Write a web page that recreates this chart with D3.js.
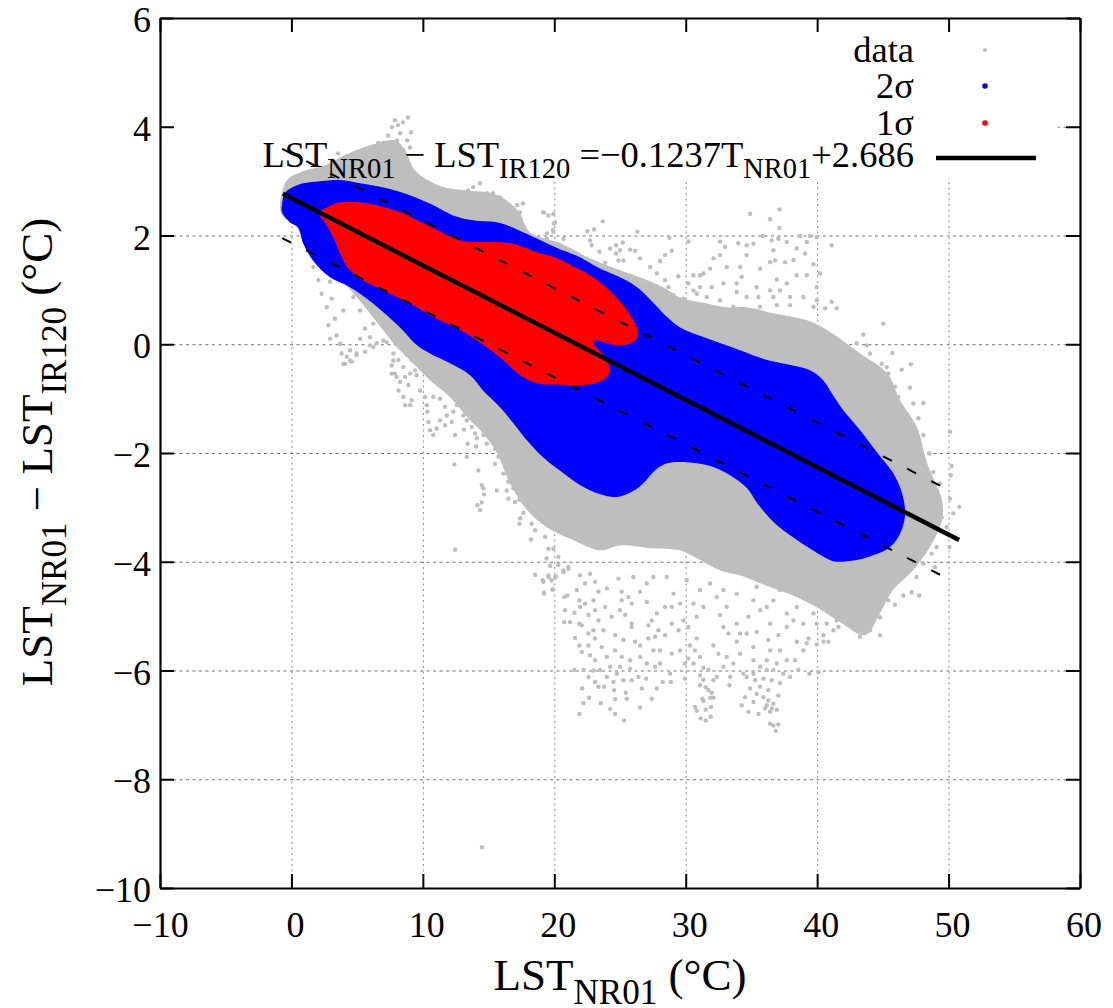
<!DOCTYPE html>
<html>
<head>
<meta charset="utf-8">
<script src="https://cdn.jsdelivr.net/npm/d3@7"></script>
<style>
body { margin: 0; background: #fff; }
text { font-family: "Liberation Serif", serif; fill: #000; }
</style>
</head>
<body>
<div id="chart"></div>
<script>
var xTicks = [-10, 0, 10, 20, 30, 40, 50, 60];
var yTicks = [-10, -8, -6, -4, -2, 0, 2, 4, 6];
var xGrid = [0, 10, 20, 30, 40, 50];
var yGrid = [-8, -6, -4, -2, 0, 2, 4];

// fit from the legend, and the dashed +/- band
var fitSlope = -0.1237;
var fitIntercept = 2.686;
var fitRange = [-0.65, 50.8];
var bandOffset = 0.82;
var bandUpperRange = [-0.7, 49.6];
var bandLowerRange = [-0.7, 49.9];

// 1 sigma outline
var redEdge = [[2.10,2.41],[2.71,2.52],[3.70,2.61],[5.22,2.61],[6.74,2.54],[8.26,2.43],[9.56,2.28],[11.08,2.10],[12.83,1.91],[14.88,1.88],[16.63,1.86],[18.69,1.69],[20.21,1.58],[21.43,1.43],[22.72,1.27],[24.01,1.03],[25.23,0.72],[25.99,0.44],[26.37,0.20],[25.99,0.04],[25.0,-0.02],[24.01,0.02],[23.10,0.07],[22.95,0.02],[23.63,-0.17],[24.17,-0.42],[24.09,-0.57],[23.33,-0.70],[22.19,-0.75],[20.44,-0.74],[18.69,-0.72],[17.39,-0.57],[16.10,-0.29],[14.88,-0.06],[12.83,0.26],[10.77,0.50],[9.02,0.75],[6.97,0.99],[5.22,1.21],[4.23,1.42],[3.70,1.67],[3.17,1.97],[2.56,2.23]];

// 2 sigma outline
var blueEdge = [[-0.72,2.56],[-0.49,2.78],[0.12,2.89],[0.88,2.96],[2.18,3.00],[3.70,3.02],[5.22,2.96],[7.27,2.87],[9.02,2.74],[10.77,2.56],[12.30,2.37],[13.82,2.28],[15.87,2.23],[17.62,2.06],[19.15,1.89],[20.21,1.77],[21.96,1.60],[23.25,1.42],[24.24,1.31],[25.0,1.23],[26.3,1.05],[27.51,0.77],[28.58,0.50],[29.57,0.31],[31.62,0.11],[34.13,-0.11],[36.19,-0.29],[38.16,-0.39],[39.46,-0.48],[40.45,-0.66],[41.21,-0.94],[41.97,-1.21],[43.27,-1.58],[44.56,-1.99],[45.78,-2.37],[46.46,-2.74],[46.69,-3.14],[46.31,-3.48],[45.55,-3.73],[43.79,-3.92],[42.27,-3.99],[41.21,-3.99],[40.0,-3.84],[38.47,-3.60],[36.95,-3.33],[35.43,-2.92],[34.67,-2.65],[33.37,-2.41],[31.85,-2.24],[30.10,-2.17],[28.58,-2.19],[27.66,-2.32],[26.75,-2.56],[25.99,-2.70],[24.77,-2.81],[23.48,-2.76],[21.96,-2.59],[20.67,-2.37],[19.15,-2.08],[17.93,-1.77],[17.01,-1.49],[15.87,-1.16],[14.58,-0.85],[13.59,-0.57],[12.07,-0.35],[10.55,-0.17],[9.56,-0.02],[8.26,0.31],[6.21,0.75],[4.46,1.05],[2.94,1.23],[1.64,1.54],[0.88,1.86],[0.50,2.15],[-0.11,2.24],[-0.72,2.43]];

// where the data points are so thick they merge
var grayEdge = [[-0.87,2.56],[-0.33,3.02],[0.65,3.16],[2.56,3.29],[4.08,3.48],[5.98,3.66],[7.88,3.75],[8.65,3.57],[9.40,3.20],[11.31,2.91],[13.21,2.83],[15.49,2.76],[17.24,2.46],[18.15,2.06],[20.44,1.86],[22.72,1.58],[25.0,1.36],[26.52,1.23],[28.27,1.05],[29.57,0.86],[31.62,0.75],[33.14,0.68],[34.67,0.68],[36.64,0.57],[39.23,0.44],[40.75,0.26],[43.27,-0.17],[45.32,-0.53],[46.31,-1.03],[47.6,-1.53],[48.37,-2.19],[49.5,-2.87],[49.5,-3.24],[48.58,-3.73],[47.29,-4.16],[45.77,-4.52],[44.78,-4.95],[43.64,-5.35],[41.74,-5.11],[39.99,-4.84],[38.16,-4.62],[36.03,-4.43],[34.13,-4.25],[32.61,-4.16],[31.09,-3.97],[29.57,-3.79],[27.29,-3.75],[24.99,-3.70],[23.48,-3.79],[21.43,-3.60],[19.45,-3.37],[17.93,-3.05],[16.63,-2.56],[15.64,-2.00],[14.58,-1.64],[13.36,-1.34],[12.07,-0.97],[10.55,-0.66],[9.25,-0.35],[7.88,-0.02],[6.97,0.26],[4.99,0.86],[3.70,1.18],[2.03,1.42],[0.27,2.19],[-0.71,2.37]];

// the loose points outside the merged area
var grayTop = [[8.87,4.17],[8.49,4.08],[8.11,4.03],[7.88,4.12],[7.65,3.99],[9.1,3.9],[8.27,3.88],[7.35,3.84],[8.8,3.75],[8.03,3.75],[6.97,3.70],[6.6,3.7],[7.1,3.6],[7.65,3.6],[6.74,3.53],[8.5,3.57],[9.02,3.62],[3.55,3.51],[5,3.51],[5.75,3.42],[14.35,2.96],[13.82,2.89],[13.44,2.83],[15.34,2.78],[14.88,2.78],[15.87,2.70],[17.62,2.59],[17.17,2.56],[17.39,2.43],[16.78,2.41],[19.15,2.43],[20.06,2.24],[19.9,2.10],[19.45,2.04],[19.22,2.42],[19.55,2.37],[19.93,2.40],[19.98,2.22],[19.93,2.07],[19.43,1.94],[20.7,1.94],[22.52,2.08],[23.03,2.11],[23.69,2.26],[26.33,2.07],[22.72,1.91],[22.85,1.82],[23.43,1.70],[24.25,1.76],[24.7,1.82],[25.21,1.87],[25.0,1.73],[25.77,1.74],[26.15,1.72],[24.7,1.67],[23.87,1.5],[24.88,1.54],[25.26,1.54],[26.53,1.58],[27.29,1.42],[28.05,1.53],[28.43,1.64],[28.94,1.72],[28.76,1.96],[30.2,1.89],[27.8,1.3],[28.43,1.18],[29.44,1.25],[28.68,1.05],[29.07,0.9],[29.83,0.84],[30.59,1.27],[31.09,1.27],[31.35,1.3],[31.85,1.39],[32.11,1.58],[32.61,1.64],[33.0,1.79],[32.61,1.89],[34.0,1.86],[34.64,1.82],[35.15,1.85],[34.9,2.4],[35.86,1.99],[36.42,2.3],[37.13,2.48],[37.13,2.14],[36.55,1.91],[37.05,1.94],[37.69,1.88],[38.7,1.99],[39.46,1.99],[39.97,1.97],[39.21,1.88],[41.11,1.82],[38.45,1.76],[39.08,1.67],[36.67,1.73],[36.8,1.54],[36.42,1.51],[37.56,1.51],[38.2,1.55],[39.72,1.47],[40.22,1.3],[38.45,1.27],[39.21,1.27],[36.93,1.19],[36.42,0.99],[37.69,1.12],[39.97,1.05],[35.66,1.39],[34.64,1.64],[34.14,1.42],[34.26,1.24],[33.88,1.12],[33.88,0.96],[32.87,1.12],[31.98,1.05],[31.09,1.05],[30.59,0.99],[33.12,1.42],[35.4,1.05],[34.64,0.87],[35.53,0.87],[37.18,0.99],[37.94,0.87],[38.95,0.87],[39.97,0.81],[40.6,0.66],[41.11,0.78],[41.49,0.66],[31.6,0.87],[32.61,0.81],[33.63,0.69],[35.66,0.69],[36.93,0.72],[37.94,0.72],[39.72,0.69],[30.84,0.93],[30.2,1.12],[32.36,0.66],[34.39,0.62],[36.67,0.87]];

var grayRight = [[45.03,0.38],[43.51,0.18],[43.0,0.02],[43.77,-0.02],[44.02,-0.17],[45.72,-0.16],[44.91,-0.36],[45.29,-0.42],[46.43,-0.47],[47.14,-0.37],[45.41,-0.54],[45.92,-0.78],[47.06,-0.8],[46.17,-0.97],[47.32,-1.09],[48.08,-1.08],[46.81,-1.28],[47.7,-1.36],[47.32,-1.52],[48.08,-1.67],[47.7,-1.83],[48.53,-2.01],[50.11,-1.61],[48.08,-2.13],[50.23,-2.24],[48.84,-2.35],[50.16,-2.41],[49.34,-2.56],[49.09,-2.69],[50.11,-2.84],[50.82,-2.99],[50.36,-3.11],[49.47,-3.18],[49.85,-3.36],[50.06,-3.73],[49.09,-3.73],[48.71,-3.85],[48.96,-4.1],[48.08,-4.03],[47.57,-4.28],[46.56,-4.62],[47.77,-4.62],[47.19,-4.56],[45.92,-4.79],[45.41,-4.71],[44.78,-5.02],[44.78,-5.35],[44.02,-5.26],[43.26,-5.38]];

var grayBottom = [[36.85,-7.11],[36.42,-6.98],[37.05,-6.99],[36.67,-7.01],[36.17,-6.64],[36.55,-6.7],[36.93,-6.72],[36.42,-6.76],[36.04,-6.7],[36.67,-6.61],[36.29,-6.55],[37.05,-6.46],[35.91,-6.49],[35.53,-6.8],[34.77,-6.76],[34.26,-6.64],[34.52,-6.49],[35.15,-6.58],[35.4,-6.43],[34.9,-6.33],[35.66,-6.3],[36.29,-6.36],[37.18,-6.23],[36.55,-6.18],[35.91,-6.15],[35.28,-6.18],[34.64,-6.12],[34.39,-6.06],[35.15,-6.06],[36.17,-5.99],[36.67,-5.99],[37.43,-6.06],[37.94,-6.12],[38.57,-5.99],[39.41,-6.06],[40.1,-6.03],[30.71,-6.67],[30.84,-6.74],[31.14,-6.88],[31.52,-6.92],[31.9,-6.85],[31.52,-6.72],[31.93,-6.67],[31.35,-6.56],[31.27,-6.52],[31.87,-6.5],[32.11,-6.5],[31.98,-6.41],[31.73,-6.36],[31.52,-6.31],[31.09,-6.27],[31.35,-6.17],[32.11,-6.18],[32.36,-6.12],[31.09,-6.09],[31.35,-5.95],[31.73,-5.99],[32.87,-5.93],[33.38,-6.12],[33.33,-6.27],[29.95,-6.15],[28.86,-6.21],[28.81,-6.06],[28.25,-6.21],[27.8,-6.33],[27.42,-6.52],[26.99,-6.15],[26.66,-6.33],[26.4,-6.12],[26.53,-6.68],[25.51,-6.52],[25.44,-6.41],[25.31,-6.92],[24.63,-6.8],[24.25,-6.71],[24.63,-6.53],[24.55,-6.36],[23.54,-6.6],[22.65,-6.5],[22.22,-6.6],[21.91,-6.8],[22.12,-6.33],[23.36,-6.3],[23.79,-6.3],[23.1,-6.21],[22.6,-6.12],[22.22,-5.99],[21.53,-5.99],[25.26,-6.18],[25.89,-6.18],[24.5,-6.21],[24.0,-6.12],[24.75,-6.06],[24.25,-5.93],[25.0,-5.93],[25.77,-5.97],[23.49,-5.99],[22.98,-6.0],[23.1,-5.81],[22.72,-5.72],[22.09,-5.66],[21.91,-5.54],[21.58,-5.4],[22.6,-5.54],[23.1,-5.41],[22.6,-5.32],[23.61,-5.57],[24.0,-5.75],[24.63,-5.63],[25.13,-5.75],[25.77,-5.81],[26.53,-5.75],[27.04,-5.87],[27.67,-5.93],[28.05,-5.87],[27.54,-5.63],[28.05,-5.63],[28.94,-5.69],[29.57,-5.63],[30.2,-5.78],[30.59,-5.87],[29.95,-5.87],[30.71,-5.63],[31.09,-5.75],[32.11,-5.54],[32.49,-5.69],[33.12,-5.75],[33.63,-5.87],[34.14,-5.69],[35.15,-5.81],[35.66,-5.93],[36.17,-5.81],[36.93,-5.87],[36.42,-5.63],[37.69,-5.81],[38.32,-5.81],[37.18,-5.63],[38.45,-5.47],[38.95,-5.63],[39.34,-5.41],[39.21,-5.5],[39.97,-5.52],[40.48,-5.47],[40.86,-5.47],[40.48,-5.35],[41.24,-5.26],[41.62,-5.2]];

var grayBand = [[19.17,-4.37],[19.22,-4.59],[19.55,-4.28],[20.06,-4.28],[19.88,-4.51],[19.68,-4.08],[20.31,-4.06],[20.7,-4.19],[21.08,-4.13],[20.75,-4.65],[21.0,-4.62],[20.82,-4.89],[21.53,-4.94],[20.75,-5.11],[21.2,-5.11],[21.91,-5.14],[22.09,-5.17],[21.96,-4.83],[21.91,-4.71],[22.34,-4.77],[21.71,-4.52],[21.96,-4.25],[22.34,-4.4],[22.72,-4.22],[23.1,-4.37],[23.36,-4.55],[22.98,-4.71],[23.1,-4.89],[22.6,-4.98],[23.36,-5.08],[22.98,-5.26],[23.74,-5.26],[24.37,-5.01],[23.87,-4.83],[24.0,-4.49],[24.88,-4.31],[25.13,-4.55],[25.13,-4.71],[25.64,-4.65],[25.89,-4.77],[25.0,-4.89],[25.39,-4.98],[25.89,-5.14],[25.89,-5.2],[24.63,-5.35],[25.26,-5.44],[26.15,-5.47],[26.53,-5.54],[27.16,-5.41],[27.67,-5.38],[27.16,-5.17],[27.42,-5.08],[27.8,-4.95],[28.43,-4.83],[28.94,-4.83],[27.92,-5.26],[28.43,-5.35],[28.94,-5.14],[29.45,-5.26],[29.83,-5.08],[30.2,-5.2],[30.84,-5.01],[30.84,-5.41],[30.33,-5.54],[31.35,-4.83],[30.59,-4.77],[29.57,-4.77],[26.53,-4.55],[27.04,-4.4],[26.02,-4.28],[27.04,-4.74],[27.54,-4.28],[28.56,-4.28],[29.07,-4.59],[30.08,-4.34],[31.09,-4.52],[31.85,-4.4],[32.36,-4.65],[32.61,-4.98],[33.12,-4.83],[32.87,-5.2],[33.25,-5.32],[33.88,-5.14],[34.14,-5.32],[33.88,-5.47],[34.64,-5.32],[35.15,-5.57],[35.4,-5.29],[34.77,-5.01],[33.88,-4.59],[32.87,-4.52],[35.15,-4.71],[36.17,-4.83],[35.66,-4.89],[36.42,-5.14],[36.29,-5.44],[37.05,-5.35],[37.69,-5.2],[38.2,-5.08],[38.95,-5.14],[39.97,-5.14],[36.67,-4.71],[37.69,-4.95],[38.45,-4.83],[39.72,-4.95],[40.73,-5.14],[41.49,-5.08],[37.18,-4.52],[35.4,-4.46]];

var grayLeft = [[12.45,-3.78],[12.4,-2.21],[14.22,-2.32],[14.48,-2.59],[14.61,-2.65],[14.66,-2.76],[14.48,-2.91],[14.15,-2.96],[14.35,-3.05],[15.62,-2.69],[16.38,-2.69],[16.51,-2.84],[17.01,-2.9],[17.34,-2.86],[13.34,-2.07],[12.45,-1.67],[13.41,-1.83],[14.05,-1.88],[13.13,-1.57],[13.72,-1.52],[13.97,-1.64],[14.1,-1.73],[14.61,-1.67],[14.86,-1.83],[14.35,-1.46],[15.24,-1.7],[15.49,-1.92],[15.75,-2.07],[15.49,-2.2],[16.13,-2.38],[16.51,-2.53],[16.89,-2.65],[17.9,-2.96],[17.65,-3.1],[17.4,-3.2],[17.34,-3.3],[18.28,-3.3],[18.54,-3.42],[18.23,-3.59],[19.3,-3.54],[19.55,-3.76],[19.93,-3.76],[19.42,-3.94],[19.68,-4.07],[20.31,-3.91],[20.69,-4.16],[21.07,-4.1],[18.54,-4.24],[19.12,-4.34],[19.55,-4.25],[19.8,-4.34],[20.13,-4.27],[19.22,-4.57],[19.86,-4.51],[10.8,-1.67],[10.55,-1.58],[10.42,-1.43],[11.05,-1.55],[11.31,-1.4],[11.69,-1.49],[12.2,-1.43],[11.82,-1.31],[10.34,-1.24],[10.29,-1.12],[10.17,-0.97],[10.8,-0.97],[11.31,-1.0],[11.69,-1.15],[12.32,-1.24],[13.08,-1.31],[13.34,-1.4],[12.58,-1.12],[9.79,-0.85],[9.15,-1.03],[9.03,-1.12],[8.65,-1.12],[8.52,-0.97],[8.14,-0.85],[8.9,-0.75],[8.27,-0.69],[8.65,-0.6],[7.88,-0.54],[9.03,-0.54],[9.53,-0.57],[7.63,-0.39],[8.14,-0.29],[9.41,-0.48],[7.76,-0.17],[8.77,-0.17],[9.15,-0.29],[3.95,-0.36],[4.59,-0.32],[4.21,-0.23],[4.46,-0.11],[4.97,-0.2],[5.6,-0.14],[5.98,-0.02],[6.49,0.02],[7.25,0.04],[2.94,0.1],[3.7,0.01],[4.08,-0.36],[4.46,-0.3],[3.82,-0.17],[4.96,-0.17],[5.22,0.1],[5.98,0.13],[5.6,0.29],[3.44,0.16],[2.81,0.35],[3.32,0.47],[2.68,0.68],[3.95,0.62],[3.06,0.84],[2.3,0.93],[2.05,1.18],[2.94,1.15],[1.67,1.42],[4.71,0.87],[5.22,0.62],[6.23,0.38],[6.99,0.07],[6.23,-0.05],[7.75,-0.3],[8.01,-0.6],[8.52,-0.42],[7.63,-0.54],[-0.36,2.34],[14.5,-9.25]];

var legendLabels = ["data", "2σ", "1σ"];
var legendColors = ["#bebebe", "#0000ff", "#ff0000"];

var width = 1113,
    height = 1008,
    plotLeft = 160, plotRight = 1080, plotTop = 18, plotBottom = 888;

var x = d3.scaleLinear().domain([-10, 60]).range([plotLeft, plotRight]);
var y = d3.scaleLinear().domain([-10, 6]).range([plotBottom, plotTop]);

var svg = d3.select("#chart").append("svg")
    .attr("width", width)
    .attr("height", height);

// grid
svg.append("g")
    .attr("transform", "translate(0," + plotBottom + ")")
    .call(d3.axisBottom(x).tickValues(xGrid).tickSize(-(plotBottom - plotTop)).tickFormat(""))
    .call(function(g) { g.select(".domain").remove(); })
    .selectAll("line")
    .attr("stroke", "#8a8a8a")
    .attr("stroke-dasharray", "2,3.5");

svg.append("g")
    .attr("transform", "translate(" + plotLeft + ",0)")
    .call(d3.axisLeft(y).tickValues(yGrid).tickSize(-(plotRight - plotLeft)).tickFormat(""))
    .call(function(g) { g.select(".domain").remove(); })
    .selectAll("line")
    .attr("stroke", "#707070")
    .attr("stroke-dasharray", "3,3.5");

// legend box hides the grid behind it
svg.append("rect")
    .attr("x", plotLeft)
    .attr("y", plotTop)
    .attr("width", 898)
    .attr("height", 160)
    .attr("fill", "#fff");

var outline = d3.line()
    .x(function(d) { return x(d[0]); })
    .y(function(d) { return y(d[1]); })
    .curve(d3.curveCatmullRomClosed);

svg.append("path").attr("d", outline(grayEdge)).attr("fill", "#bebebe");

var loose = grayTop.concat(grayRight, grayBottom, grayBand, grayLeft);
svg.append("g").selectAll("circle")
    .data(loose)
    .enter().append("circle")
    .attr("cx", function(d) { return x(d[0]); })
    .attr("cy", function(d) { return y(d[1]); })
    .attr("r", 2.2)
    .attr("fill", "#bebebe");

svg.append("path").attr("d", outline(blueEdge)).attr("fill", "#0000ff");
svg.append("path").attr("d", outline(redEdge)).attr("fill", "#ff0000");

// dashed band and fit line
function fitLine(range, offset) {
    return d3.line()
        .x(function(d) { return x(d); })
        .y(function(d) { return y(fitSlope * d + fitIntercept + offset); })(range);
}

svg.append("path").attr("d", fitLine(bandUpperRange, bandOffset))
    .attr("fill", "none").attr("stroke", "#000").attr("stroke-width", 2)
    .attr("stroke-dasharray", "10,17");
svg.append("path").attr("d", fitLine(bandLowerRange, -bandOffset))
    .attr("fill", "none").attr("stroke", "#000").attr("stroke-width", 2)
    .attr("stroke-dasharray", "10,17");
svg.append("path").attr("d", fitLine(fitRange, 0))
    .attr("fill", "none").attr("stroke", "#000").attr("stroke-width", 4.5);

// axes, ticks point inward on all four sides
function axisStyle(g) {
    g.select(".domain").attr("stroke-width", 2.2).attr("stroke", "#000");
    g.selectAll("line").attr("stroke-width", 2).attr("stroke", "#000");
    g.selectAll("text").attr("font-size", 36).attr("font-family", "Liberation Serif");
}

var axisB = svg.append("g")
    .attr("transform", "translate(0," + plotBottom + ")")
    .call(d3.axisBottom(x).tickValues(xTicks).tickSize(-14).tickSizeOuter(0).tickPadding(23))
    .call(axisStyle);
axisB.selectAll("text").attr("dx", function(d) { return d < 0 ? 0 : 3.5; });

svg.append("g")
    .attr("transform", "translate(" + plotLeft + ",0)")
    .call(d3.axisLeft(y).tickValues(yTicks).tickSize(-14).tickSizeOuter(0).tickPadding(9))
    .call(axisStyle)
    .selectAll("text").attr("dy", "0.38em");

svg.append("g")
    .attr("transform", "translate(0," + plotTop + ")")
    .call(d3.axisTop(x).tickValues(xTicks).tickSize(-14).tickSizeOuter(0).tickFormat(""))
    .call(axisStyle);

svg.append("g")
    .attr("transform", "translate(" + plotRight + ",0)")
    .call(d3.axisRight(y).tickValues(yTicks).tickSize(-14).tickSizeOuter(0).tickFormat(""))
    .call(axisStyle);

// text with subscripts: pairs of [string, isSub]
function richText(sel, parts, size) {
    parts.forEach(function(p, i) {
        var prev = i > 0 ? parts[i - 1][1] : false;
        var t = sel.append("tspan").text(p[0]);
        t.attr("font-size", p[1] ? size * 0.78 : size);
        var dy = 0;
        if (p[1] && !prev) dy = size * 0.3;
        if (!p[1] && prev) dy = -size * 0.3;
        t.attr("dy", dy);
    });
}

var legendRows = [62, 98, 135];
legendLabels.forEach(function(label, i) {
    svg.append("text")
        .attr("x", 914)
        .attr("y", legendRows[i])
        .attr("text-anchor", "end")
        .attr("font-size", 36.5)
        .text(label);
    svg.append("circle")
        .attr("cx", 985)
        .attr("cy", legendRows[i] - 12)
        .attr("r", i == 0 ? 2 : 2.8)
        .attr("fill", legendColors[i]);
});

var fitText = svg.append("text").attr("x", 914).attr("y", 167).attr("text-anchor", "end");
richText(fitText, [["LST", false], ["NR01", true], [" − LST", false], ["IR120", true], [" =−0.1237T", false], ["NR01", true], ["+2.686", false]], 36.5);

svg.append("line")
    .attr("x1", 936).attr("x2", 1036)
    .attr("y1", 158).attr("y2", 158)
    .attr("stroke", "#000")
    .attr("stroke-width", 4.5);

var xLabel = svg.append("text").attr("x", 620).attr("y", 990).attr("text-anchor", "middle");
richText(xLabel, [["LST", false], ["NR01", true], [" (°C)", false]], 45);

var yLabel = svg.append("text")
    .attr("transform", "translate(52,452) rotate(-90)")
    .attr("text-anchor", "middle");
richText(yLabel, [["LST", false], ["NR01", true], [" − LST", false], ["IR120", true], [" (°C)", false]], 45);
</script>
</body>
</html>
